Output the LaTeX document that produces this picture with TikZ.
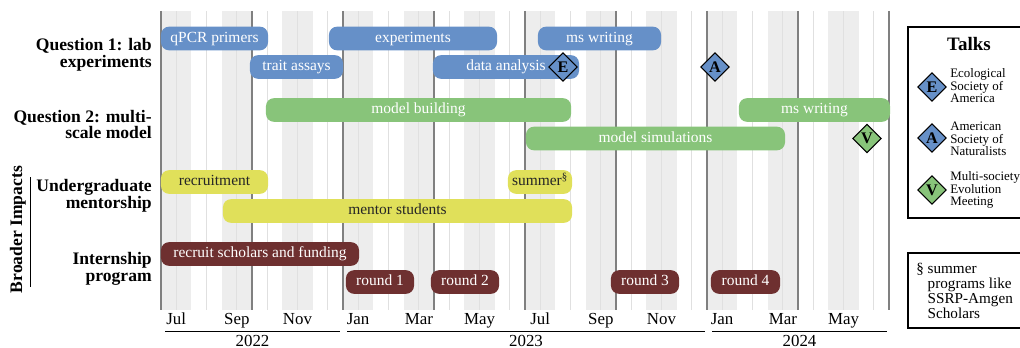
\documentclass[tikz,border=0pt]{standalone}
\usepackage{fontspec}
\setmainfont{Liberation Serif}
\usepackage{xcolor}
\usepackage{tikz}
\usetikzlibrary{shapes.geometric}
\definecolor{barblue}{HTML}{6690C8}
\definecolor{bargreen}{HTML}{88C47A}
\definecolor{baryellow}{HTML}{E0E05A}
\definecolor{barred}{HTML}{6E3030}
\definecolor{stripe}{HTML}{EDEDED}
\definecolor{midline}{HTML}{E0E0E0}
\definecolor{quarter}{HTML}{808080}

\begin{document}
\begin{tikzpicture}[x=0.025cm,y=-0.025cm,
	bar/.style={rectangle,rounded corners=0.2cm,minimum height=0.59cm,inner sep=0pt,font=\fontsize{11}{13}\selectfont,text height=7.4pt,text depth=2pt},
	blue bar/.style={bar,fill=barblue,text=white},
	green bar/.style={bar,fill=bargreen,text=white},
	yellow bar/.style={bar,fill=baryellow,text=black!85},
	red bar/.style={bar,fill=barred,text=white},
	talk/.style={draw=black,diamond,line width=0.8pt,minimum size=0.72cm,inner sep=0pt,font=\fontsize{11.5}{12}\selectfont\bfseries},
	row label/.style={anchor=east,align=right,inner sep=0pt,font=\fontsize{12.5}{12}\selectfont\bfseries},
	month/.style={anchor=base,inner sep=0pt,font=\fontsize{12}{12}\selectfont},
	legend text/.style={anchor=west,align=left,inner sep=0pt,font=\fontsize{9.2}{8.9}\selectfont}]
	\useasboundingbox (0,0) rectangle (1020,348);

	% month stripes, mid-month ticks and quarter lines
	\foreach \m in {0,2,...,22}
		\fill[stripe] ({161+30.333*\m},11) rectangle ({161+30.333*(\m+1)},310);
	\foreach \m in {0,...,23}
		\draw[midline,line width=0.7pt] ({161+30.333*(\m+0.5)},11) -- ({161+30.333*(\m+0.5)},310);
	\foreach \q in {0,...,8}
		\draw[quarter,line width=1.1pt] ({161+91*\q},11) -- ({161+91*\q},310);

	% row labels
	\node[row label] (q1) at (152,55) {Question 1: lab\\experiments};
	\node[row label] (q2) at (152,124.5) {Question 2: multi-\\scale model};
	\node[row label] (ugrad) at (152,196) {Undergraduate\\mentorship};
	\node[row label] (intern) at (152,269) {Internship\\program};
	\node[rotate=90,inner sep=0pt,font=\fontsize{12.5}{12}\selectfont\bfseries] (broader) at (18,229.5) {Broader Impacts};
	\coordinate (bi top) at (30.5,177);
	\coordinate (bi bot) at (30.5,287);
	\draw[line width=0.6pt] (bi top)--(bi bot);

	% question 1
	\node[blue bar,minimum width=2.675cm] (q1 primers) at (214.5,38.5) {qPCR primers};
	\node[blue bar,minimum width=4.2cm] (q1 exp) at (413,38.5) {experiments};
	\node[blue bar,minimum width=3.075cm] (q1 ms) at (599.5,38.5) {ms writing};
	\node[blue bar,minimum width=2.325cm] (q1 traits) at (296.5,67) {trait assays};
	\node[blue bar,minimum width=3.65cm] (q1 data) at (506,67) {data analysis};
	\node[talk,fill=barblue] (talk esa) at (563,67) {E};
	\node[talk,fill=barblue] (talk asn) at (715,67) {A};

	% question 2
	\node[green bar,minimum width=7.625cm] (q2 build) at (418.5,110) {model building};
	\node[green bar,minimum width=3.775cm] (q2 ms) at (814.5,110) {ms writing};
	\node[green bar,minimum width=6.475cm] (q2 sims) at (655.5,138.5) {model simulations};
	\node[talk,fill=bargreen] (talk evo) at (867,138.5) {V};

	% mentorship
	\node[yellow bar,minimum width=2.675cm] (ug recruit) at (214.5,182) {recruitment};
	\node[yellow bar,minimum width=1.6cm] (ug summer) at (540,182) {summer\textsuperscript{\S}};
	\node[yellow bar,minimum width=8.725cm] (ug mentor) at (397.5,211) {mentor students};

	% internship
	\node[red bar,minimum width=4.95cm] (in recruit) at (260,254) {recruit scholars and funding};
	\node[red bar,minimum width=1.7cm] (in r1) at (380,282) {round 1};
	\node[red bar,minimum width=1.7cm] (in r2) at (465,282) {round 2};
	\node[red bar,minimum width=1.7cm] (in r3) at (645,282) {round 3};
	\node[red bar,minimum width=1.725cm] (in r4) at (745.5,282) {round 4};

	% time axis
	\foreach \m/\mname in {0/Jul,2/Sep,4/Nov,6/Jan,8/Mar,10/May,12/Jul,14/Sep,16/Nov,18/Jan,20/Mar,22/May}
		\node[month] (mon \m) at ({161+30.333*(\m+0.5)},324) {\mname};
	\draw[line width=0.6pt] (165,331.5)--(340,331.5);
	\draw[line width=0.6pt] (347,331.5)--(705,331.5);
	\draw[line width=0.6pt] (712,331.5)--(887,331.5);
	\node[month] (yr 2022) at (252.5,346) {2022};
	\node[month] (yr 2023) at (526,346) {2023};
	\node[month] (yr 2024) at (799.5,346) {2024};

	% talks legend
	\draw[line width=1.4pt] (908,27) rectangle (1035,218);
	\node[inner sep=0pt,font=\fontsize{13.5}{14}\selectfont\bfseries] (talks) at (969,44) {Talks};
	\node[talk,fill=barblue] (leg esa) at (932,87) {E};
	\node[legend text] (leg esa txt) at (950,86) {Ecological\\Society of\\America};
	\node[talk,fill=barblue] (leg asn) at (932,138) {A};
	\node[legend text] (leg asn txt) at (950,139) {American\\Society of\\Naturalists};
	\node[talk,fill=bargreen] (leg evo) at (932,190) {V};
	\node[legend text] (leg evo txt) at (950,190) {Multi-society\\Evolution\\Meeting};

	% footnote box
	\draw[line width=1.4pt] (908,253) rectangle (1035,328);
	\node[anchor=west,align=left,inner sep=0pt,font=\fontsize{10.8}{10.6}\selectfont] (note) at (916,291.5)
		{\S\ summer\\\phantom{\S\ }programs like\\\phantom{\S\ }SSRP-Amgen\\\phantom{\S\ }Scholars};
\end{tikzpicture}
\end{document}
